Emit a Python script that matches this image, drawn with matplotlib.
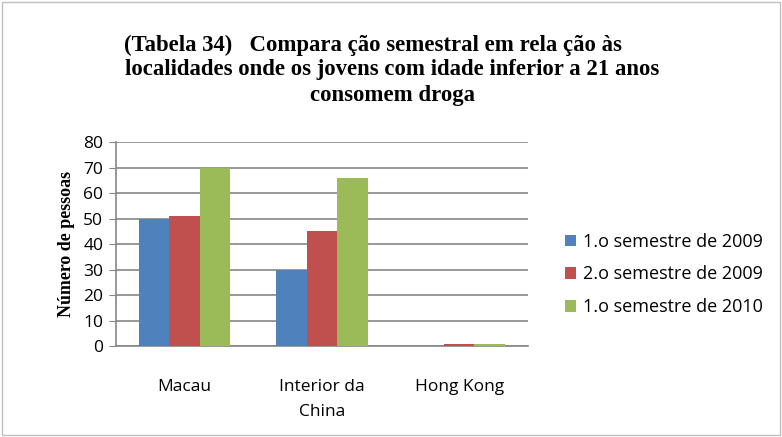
import matplotlib
matplotlib.use("Agg")
import matplotlib.pyplot as plt
import numpy as np
from matplotlib.patches import Rectangle

categories = ["Macau", "Interior da\nChina", "Hong Kong"]
series_names = ["1.o semestre de 2009", "2.o semestre de 2009", "1.o semestre de 2010"]
s2009_1 = [50, 30, 0]
s2009_2 = [51, 45, 1]
s2010_1 = [70, 66, 1]
colors = ["#4F81BD", "#C0504D", "#9BBB59"]
yticks = [0, 10, 20, 30, 40, 50, 60, 70, 80]
title_lines = ["(Tabela 34)   Compara ção semestral em rela ção às",
               "localidades onde os jovens com idade inferior a 21 anos",
               "consomem droga"]

fig = plt.figure(figsize=(7.82, 4.37), dpi=100)
fig.patches.append(Rectangle((0.003, 0.004), 0.994, 0.992, transform=fig.transFigure,
                             fill=False, edgecolor="#BFBFBF", linewidth=1))
ax = fig.add_axes([0.148, 0.208, 0.527, 0.467])

x = np.arange(len(categories))
w = 0.222
for i, (vals, name, c) in enumerate(zip([s2009_1, s2009_2, s2010_1], series_names, colors)):
    ax.bar(x + (i - 1) * w, vals, w, color=c, label=name, zorder=3)

ax.set_xlim(-0.5, 2.5)
ax.set_ylim(0, 80)
ax.set_yticks(yticks)
ax.yaxis.grid(True, color="#868686", linewidth=1.2, zorder=0)
for s in ["top", "right"]:
    ax.spines[s].set_visible(False)
ax.spines["left"].set_color("#868686")
ax.spines["bottom"].set_color("#868686")
ax.spines["left"].set_linewidth(1.2)
ax.spines["bottom"].set_linewidth(1.2)
ax.tick_params(axis="y", length=5, color="#868686", labelsize=12.5, pad=4)
ax.tick_params(axis="x", length=0, labelsize=12.5, pad=24)
ax.set_xticks(x)
ax.set_xticklabels(categories, fontfamily="Open Sans", linespacing=1.72)
for lab in ax.get_yticklabels():
    lab.set_fontfamily("Open Sans")

ax.set_ylabel("Número de pessoas", fontfamily="Liberation Serif", fontweight="bold",
              fontsize=12.9, labelpad=6)

title_kw = dict(ha="center", va="center", fontfamily="Liberation Serif",
                fontweight="bold", fontsize=16.4)
fig.text(373 / 782, 1 - 45 / 437, title_lines[0], **title_kw)
fig.text(392 / 782, 1 - 70 / 437, title_lines[1], **title_kw)
fig.text(392 / 782, 1 - 95 / 437, title_lines[2], **title_kw)

leg = fig.legend(loc="center left", bbox_to_anchor=(0.702, 0.372), frameon=False,
                 prop={"family": "Open Sans", "size": 13}, handlelength=0.6,
                 handleheight=0.6, handletextpad=0.4, labelspacing=0.82)

fig.savefig("out.png", dpi=100)
